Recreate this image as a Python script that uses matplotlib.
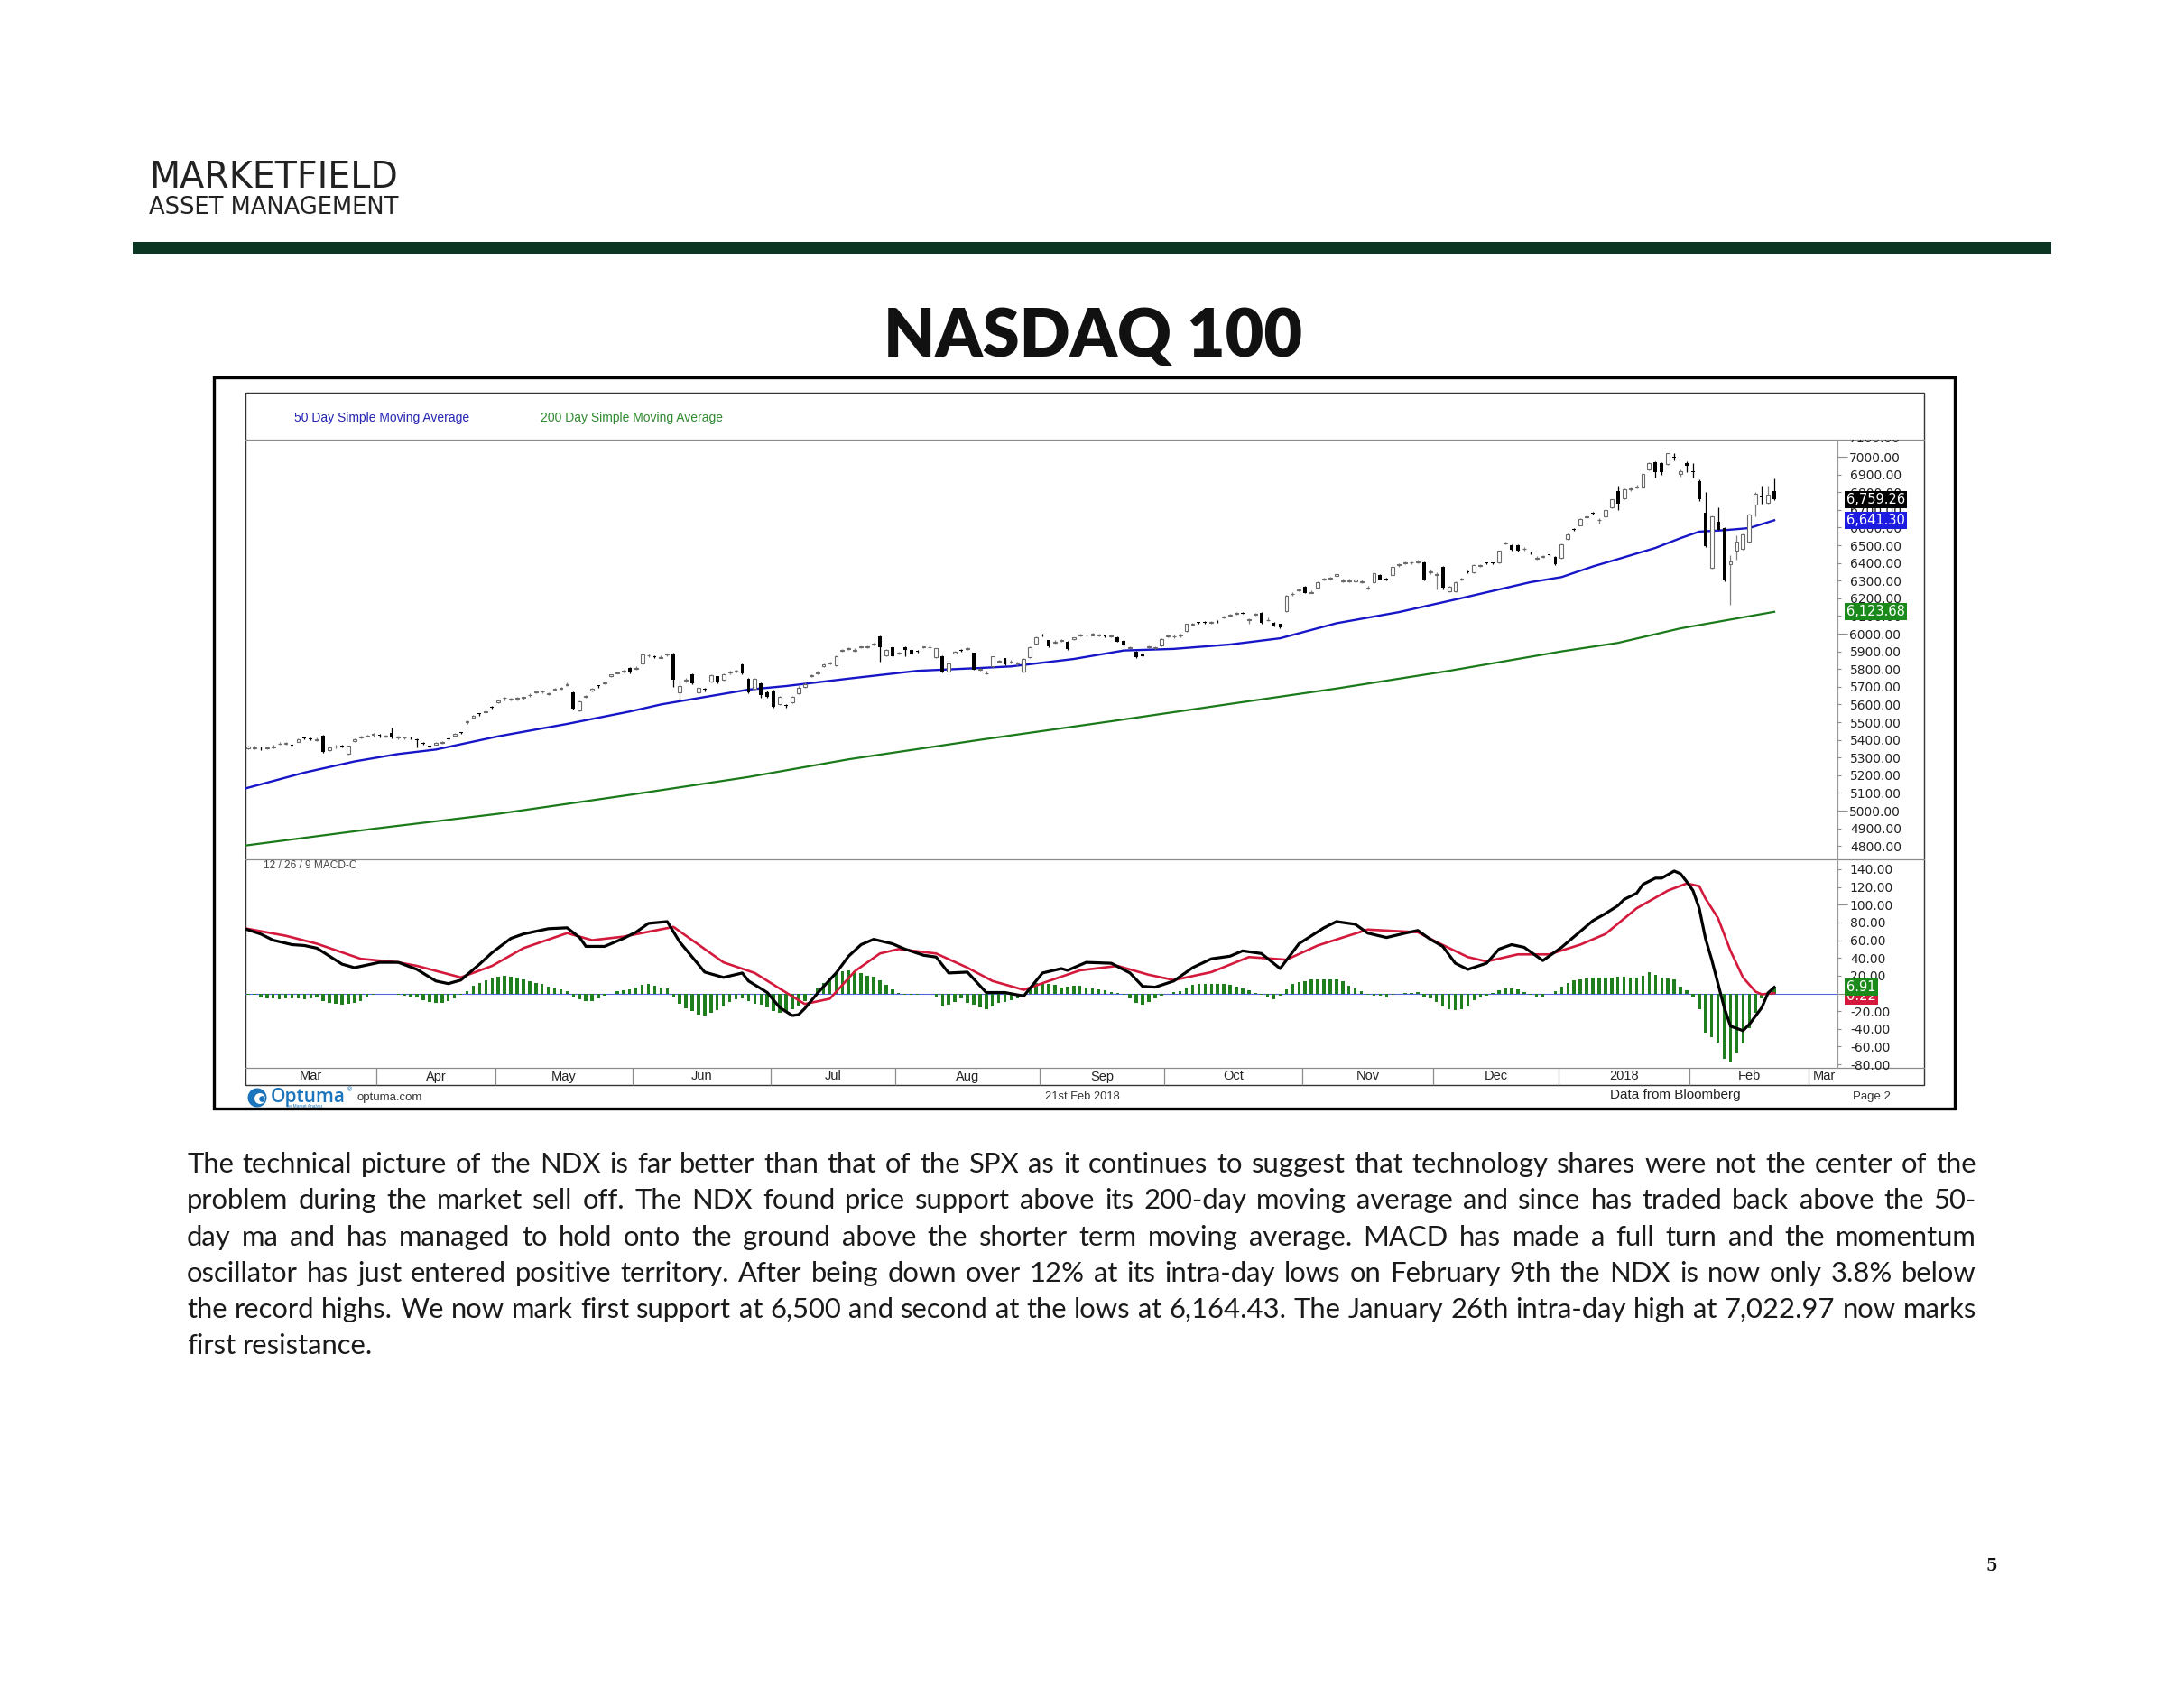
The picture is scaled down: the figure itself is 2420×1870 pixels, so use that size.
import numpy as np
import pandas as pd
import matplotlib
matplotlib.use("Agg")
import matplotlib.pyplot as plt
import matplotlib.transforms as mtransforms
from matplotlib.patches import Rectangle, Circle
from matplotlib.ticker import MultipleLocator, FuncFormatter

plt.rcParams['axes.unicode_minus'] = False

# ---------------- data (NDX daily, 2 Mar 2017 - 21 Feb 2018) ----------------
holidays = ["2017-04-14", "2017-05-29", "2017-07-04", "2017-09-04", "2017-11-23",
            "2017-12-25", "2018-01-01", "2018-01-15", "2018-02-19"]

opens = [
    5372, 5350, 5352, 5358, 5353, 5358, 5376, 5377, 5368, 5390,
    5414, 5409, 5399, 5423, 5340, 5360, 5368, 5322, 5392, 5412,
    5420, 5428, 5427, 5418, 5440, 5412, 5411, 5413, 5404, 5382,
    5366, 5374, 5382, 5408, 5425, 5442, 5499, 5528, 5549, 5557,
    5588, 5610, 5636, 5627, 5632, 5639, 5651, 5667, 5672, 5660,
    5686, 5688, 5711, 5670, 5568, 5643, 5680, 5707, 5719, 5758,
    5778, 5786, 5806, 5802, 5832, 5876, 5874, 5864, 5882, 5888,
    5670, 5735, 5769, 5670, 5688, 5729, 5758, 5741, 5780, 5784,
    5826, 5746, 5687, 5721, 5670, 5678, 5602, 5595, 5610, 5662,
    5700, 5760, 5778, 5816, 5834, 5823, 5905, 5914, 5905, 5922,
    5924, 5940, 5985, 5877, 5925, 5890, 5925, 5908, 5903, 5921,
    5922, 5866, 5874, 5786, 5890, 5908, 5915, 5891, 5797, 5774,
    5815, 5840, 5860, 5839, 5831, 5786, 5866, 5945, 5996, 5962,
    5950, 5961, 5955, 5968, 5990, 5993, 5992, 5992, 5988, 5984,
    5979, 5959, 5920, 5900, 5888, 5921, 5918, 5934, 5984, 5983,
    5988, 6014, 6050, 6064, 6068, 6062, 6072, 6092, 6102, 6111,
    6119, 6077, 6107, 6116, 6075, 6062, 6054, 6130, 6222, 6244,
    6266, 6231, 6258, 6306, 6312, 6328, 6298, 6298, 6296, 6290,
    6257, 6291, 6334, 6311, 6334, 6387, 6397, 6401, 6404, 6405,
    6346, 6332, 6376, 6240, 6240, 6306, 6354, 6348, 6384, 6402,
    6401, 6402, 6510, 6501, 6501, 6478, 6463, 6426, 6435, 6447,
    6436, 6428, 6535, 6594, 6614, 6657, 6686, 6641, 6665, 6716,
    6806, 6767, 6817, 6826, 6827, 6929, 6971, 6963, 6959, 6998,
    6905, 6966, 6914, 6864, 6682, 6371, 6631, 6597, 6393, 6470,
    6478, 6521, 6728, 6775, 6738, 6806,
]
highs = [
    5380, 5365, 5368, 5362, 5364, 5372, 5390, 5388, 5378, 5408,
    5418, 5413, 5412, 5428, 5360, 5370, 5374, 5368, 5406, 5422,
    5430, 5438, 5432, 5430, 5469, 5422, 5420, 5420, 5410, 5386,
    5370, 5386, 5394, 5412, 5437, 5446, 5508, 5542, 5552, 5566,
    5592, 5624, 5642, 5636, 5641, 5645, 5662, 5676, 5678, 5670,
    5692, 5697, 5722, 5675, 5625, 5655, 5694, 5710, 5730, 5772,
    5787, 5795, 5810, 5815, 5886, 5886, 5878, 5878, 5890, 5893,
    5738, 5750, 5774, 5700, 5692, 5768, 5762, 5776, 5790, 5798,
    5832, 5750, 5750, 5725, 5678, 5682, 5650, 5602, 5650, 5702,
    5722, 5770, 5790, 5830, 5842, 5878, 5914, 5926, 5916, 5931,
    5934, 5950, 5990, 5912, 5930, 5900, 5930, 5912, 5906, 5931,
    5934, 5920, 5878, 5836, 5901, 5911, 5925, 5895, 5808, 5790,
    5874, 5850, 5864, 5850, 5840, 5860, 5928, 5984, 6000, 5966,
    5962, 5970, 5958, 5982, 5999, 5996, 6004, 6002, 5992, 5996,
    5983, 5962, 5930, 5904, 5892, 5932, 5927, 5972, 5994, 5994,
    6000, 6058, 6061, 6067, 6071, 6072, 6075, 6100, 6112, 6120,
    6122, 6088, 6116, 6120, 6090, 6066, 6058, 6220, 6234, 6255,
    6270, 6245, 6295, 6318, 6324, 6342, 6310, 6310, 6308, 6305,
    6272, 6347, 6338, 6314, 6380, 6396, 6406, 6410, 6420, 6410,
    6360, 6345, 6382, 6270, 6295, 6318, 6357, 6392, 6394, 6405,
    6404, 6471, 6522, 6505, 6505, 6488, 6466, 6438, 6444, 6450,
    6440, 6508, 6565, 6598, 6652, 6666, 6689, 6652, 6704, 6762,
    6836, 6822, 6828, 6842, 6907, 6967, 6975, 6968, 7022.97, 7020,
    6930, 6972, 6966, 6870, 6801, 6670, 6716, 6602, 6444, 6558,
    6568, 6678, 6801, 6836, 6836, 6877,
]
lows = [
    5360, 5345, 5345, 5342, 5345, 5350, 5374, 5375, 5363, 5386,
    5405, 5400, 5394, 5325, 5335, 5352, 5355, 5318, 5388, 5408,
    5416, 5420, 5415, 5414, 5410, 5404, 5402, 5404, 5356, 5370,
    5350, 5370, 5376, 5398, 5420, 5432, 5490, 5524, 5538, 5552,
    5576, 5606, 5625, 5620, 5625, 5630, 5645, 5662, 5664, 5652,
    5678, 5684, 5704, 5572, 5560, 5636, 5675, 5696, 5712, 5754,
    5774, 5782, 5776, 5796, 5828, 5868, 5862, 5862, 5872, 5700,
    5627, 5725, 5715, 5662, 5676, 5724, 5720, 5736, 5772, 5780,
    5770, 5665, 5682, 5640, 5636, 5582, 5598, 5582, 5606, 5658,
    5694, 5755, 5772, 5812, 5826, 5818, 5900, 5910, 5898, 5918,
    5917, 5934, 5840, 5870, 5868, 5882, 5875, 5884, 5893, 5917,
    5916, 5860, 5780, 5780, 5886, 5898, 5908, 5795, 5790, 5770,
    5810, 5836, 5822, 5832, 5824, 5782, 5862, 5940, 5985, 5922,
    5946, 5954, 5906, 5964, 5986, 5983, 5988, 5985, 5978, 5980,
    5952, 5928, 5916, 5860, 5868, 5917, 5914, 5930, 5978, 5976,
    5982, 6010, 6046, 6054, 6058, 6058, 6062, 6086, 6096, 6107,
    6110, 6055, 6100, 6058, 6072, 6040, 6032, 6125, 6215, 6238,
    6228, 6228, 6254, 6300, 6305, 6324, 6290, 6290, 6292, 6286,
    6252, 6286, 6304, 6300, 6330, 6380, 6393, 6394, 6400, 6300,
    6338, 6249, 6250, 6236, 6236, 6300, 6344, 6344, 6378, 6392,
    6391, 6398, 6504, 6469, 6463, 6470, 6450, 6420, 6428, 6437,
    6390, 6424, 6530, 6582, 6610, 6653, 6676, 6625, 6660, 6710,
    6700, 6760, 6808, 6822, 6822, 6924, 6881, 6900, 6955, 6980,
    6890, 6915, 6881, 6752, 6490, 6365, 6585, 6298, 6164.43, 6419,
    6474, 6516, 6665, 6733, 6733, 6755,
]
closes = [
    5365, 5360, 5357, 5355, 5357, 5363, 5379, 5380, 5366, 5402,
    5408, 5404, 5403, 5330, 5356, 5362, 5362, 5365, 5402, 5418,
    5425, 5430, 5421, 5426, 5415, 5413, 5412, 5411, 5399, 5376,
    5360, 5382, 5386, 5403, 5433, 5437, 5500, 5538, 5544, 5562,
    5583, 5620, 5638, 5629, 5634, 5641, 5655, 5672, 5674, 5664,
    5688, 5693, 5715, 5577, 5619, 5647, 5690, 5702, 5723, 5768,
    5783, 5791, 5781, 5808, 5883, 5878, 5868, 5866, 5884, 5738,
    5704, 5740, 5721, 5695, 5682, 5764, 5724, 5772, 5782, 5792,
    5775, 5670, 5746, 5653, 5643, 5588, 5645, 5593, 5645, 5696,
    5714, 5766, 5783, 5826, 5836, 5874, 5910, 5916, 5910, 5927,
    5926, 5944, 5925, 5908, 5874, 5892, 5908, 5888, 5898, 5927,
    5926, 5916, 5786, 5832, 5897, 5903, 5917, 5798, 5799, 5776,
    5870, 5846, 5826, 5841, 5833, 5857, 5925, 5979, 5990, 5928,
    5952, 5963, 5911, 5978, 5995, 5988, 6000, 5994, 5983, 5986,
    5956, 5933, 5925, 5865, 5874, 5928, 5923, 5968, 5986, 5987,
    5993, 6054, 6057, 6059, 6063, 6068, 6070, 6094, 6106, 6116,
    6114, 6081, 6109, 6062, 6077, 6045, 6037, 6215, 6226, 6248,
    6232, 6233, 6291, 6310, 6316, 6338, 6302, 6302, 6304, 6292,
    6259, 6343, 6308, 6306, 6376, 6389, 6402, 6403, 6406, 6308,
    6350, 6336, 6258, 6266, 6291, 6310, 6349, 6388, 6386, 6397,
    6396, 6467, 6514, 6473, 6467, 6480, 6461, 6430, 6437, 6442,
    6394, 6504, 6560, 6589, 6648, 6662, 6681, 6645, 6700, 6758,
    6733, 6818, 6819, 6828, 6903, 6963, 6915, 6915, 7019, 6996,
    6920, 6949, 6912, 6759, 6495, 6665, 6589, 6303, 6410, 6521,
    6563, 6674, 6793, 6772, 6784, 6759.26,
]

# moving averages (bar index, value)
sma50_idx = [0, 10, 18, 25, 31, 41, 52, 62, 67, 73, 81, 87, 97, 108, 118, 123, 133,
             141, 149, 158, 166, 175, 185, 195, 206, 211, 216, 221, 226, 230, 233,
             237, 241, 245]
sma50_val = [5120, 5215, 5278, 5320, 5345, 5420, 5490, 5560, 5600, 5636, 5684, 5704,
             5746, 5790, 5806, 5815, 5857, 5905, 5914, 5939, 5974, 6059, 6122, 6201,
             6291, 6320, 6380, 6432, 6485, 6540, 6577, 6585, 6597, 6641.30]
sma200_idx = [0, 21, 41, 62, 81, 97, 118, 139, 158, 175, 193, 211, 220, 230, 238, 245]
sma200_val = [4800, 4897, 4982, 5089, 5190, 5290, 5400, 5505, 5603, 5690, 5790, 5900,
              5948, 6030, 6080, 6123.68]

# MACD 12/26/9
macd_idx = [0, 3, 5, 8, 10, 12, 14, 16, 18, 20, 22, 25, 28, 31, 33, 35, 38, 40, 43, 45,
            49, 52, 54, 55, 58, 61, 63, 65, 68, 70, 74, 77, 80, 81, 84, 86, 88, 89, 90,
            92, 95, 97, 99, 101, 104, 106, 109, 111, 113, 116, 119, 122, 125, 128, 131,
            132, 135, 139, 142, 144, 146, 149, 152, 155, 158, 160, 163, 166, 169, 173,
            175, 178, 180, 183, 186, 188, 190, 192, 194, 196, 199, 201, 203, 205, 208,
            211, 214, 216, 218, 220, 221, 223, 224, 226, 227, 229, 230, 231, 232, 233,
            234, 235, 236, 237, 238, 240, 241, 243, 244, 245]
macd_val = [74, 67, 60, 55, 54, 51, 42, 33, 29, 32, 35, 35, 27, 14, 11, 15, 33, 46, 62, 67,
            73, 74, 63, 53, 53, 62, 69, 79, 81, 58, 24, 18, 23, 14, 1, -16, -25, -24, -17,
            0, 23, 42, 55, 61, 56, 50, 43, 41, 23, 24, 1, 1, -3, 23, 28,
            26, 35, 34, 23, 8, 7, 14, 29, 39, 42, 48, 45, 28, 56, 74,
            81, 78, 68, 63, 68, 71, 61, 53, 34, 27, 34, 50, 55, 52, 37,
            52, 70, 82, 90, 99, 106, 113, 123, 130, 130, 138, 135, 126, 116, 96,
            62, 38, 11, -16, -37, -42, -35, -16, 0.5, 6.91]
signal_idx = [0, 7, 12, 19, 25, 28, 35, 40, 45, 52, 56, 61, 69, 77, 82, 87, 90, 94, 98,
              102, 105, 111, 116, 120, 125, 129, 134, 140, 145, 149, 155, 161, 167, 172,
              180, 188, 191, 196, 199, 204, 209, 214, 218, 223, 228, 231, 233, 234, 236,
              238, 240, 242, 243, 245]
signal_val = [74, 65, 56, 39, 35, 31, 18, 31, 51, 68, 60, 64, 75, 35, 23, 1, -12, -6, 25,
              45, 50, 45, 29, 14, 4, 14, 26, 31, 21, 15, 24, 41, 38, 54,
              72, 69, 58, 41, 36, 44, 44, 55, 67, 96, 116, 124, 121, 107, 85,
              48, 18, 2, -1, 0.22]
histogram = [
    -2, -2, -2,
    -5, -6, -6, -7, -6, -6, -6, -7, -6, -5,
    -9, -11, -12, -13, -12, -11, -9,
    -4, -2,
    0, -1, 0,
    -2, -3, -4, -5,
    -8, -10, -11, -11, -9, -6,
    -2, 3,
    9, 12, 15, 17, 19, 20, 19, 18, 16, 14, 12, 11, 8, 6, 5, 3,
    -4, -7, -9, -9, -6, -3,
    0,
    3, 4, 5, 7, 10, 11, 9, 7, 6,
    -4, -12, -17, -20, -24, -25, -22, -19, -15, -10, -7, -6, -9, -12, -13,
    -16, -20, -22, -21, -18, -14, -9, -2,
    6, 12, 17, 22, 25, 26, 25, 23, 20, 19,
    15, 10, 5, 1,
    -2, -2, -2, -1, -1, -4,
    -15, -13, -10, -6, -11, -13,
    -16, -18, -15, -11, -10, -8, -6, -4,
    7, 12, 12, 11, 10, 7, 8, 9, 9, 7, 6, 5, 4, 2, 1,
    -2, -6, -11, -13, -10, -6, -3, -1,
    2, 3, 7, 10, 11, 11, 11, 11, 11, 10, 8, 6, 4,
    1,
    -2, -4, -7, -3,
    5, 11, 13, 14, 16, 16, 16, 16, 16, 14, 9, 6, 3,
    -2, -3, -3, -5, -2,
    0, 1, 1, 2,
    -4, -6, -10, -15, -18, -19, -18, -15, -8, -5, -3,
    1, 4, 6, 6, 5, 2, -2, -4, -4, -1, 3, 8, 12, 15, 16, 17, 18, 18,
    17.5, 17.5, 19, 19, 18, 18, 20, 23.6, 21, 18, 17, 16, 8, 4, -4, -18, -44, -49,
    -55, -74, -77, -67, -56, -39, -22, -6, -1, 6.69,
]
month_names = ['Mar', 'Apr', 'May', 'Jun', 'Jul', 'Aug', 'Sep', 'Oct', 'Nov', 'Dec',
               '2018', 'Feb', 'Mar']

body_lines = [
    "The technical picture of the NDX is far better than that of the SPX as it continues to suggest that technology shares were not the center of the",
    "problem during the market sell off. The NDX found price  support above its 200-day moving average and since has traded back above the 50-",
    "day ma and has managed to hold onto the ground above the shorter term moving average. MACD has made a full turn and the momentum",
    "oscillator has just entered positive territory. After being down over 12% at its intra-day lows on February 9th the NDX is now only 3.8% below",
    "the record highs. We now mark first support at 6,500 and second at the lows at 6,164.43. The January 26th intra-day high at 7,022.97 now marks",
    "first resistance.",
]

assert len(opens) == len(highs) == len(lows) == len(closes) == len(histogram) == 246

# ---------------- figure ----------------
W, H, DPI = 2420, 1870, 100
fig = plt.figure(figsize=(W / DPI, H / DPI), dpi=DPI)
fig.patch.set_facecolor('white')

page = fig.add_axes([0, 0, 1, 1])
page.set_xlim(0, W)
page.set_ylim(H, 0)
page.axis('off')


def px_rect(x0, y0, x1, y1):
    return [x0 / W, 1 - y1 / H, (x1 - x0) / W, (y1 - y0) / H]


# header
page.text(165, 208, 'MARKETFIELD', fontsize=28.5, color='#222222', va='baseline',
          family='DejaVu Sans')
page.text(165, 237, 'ASSET MANAGEMENT', fontsize=18.5, color='#222222', va='baseline',
          family='DejaVu Sans')
page.add_patch(Rectangle((147, 268), 2126, 13, facecolor='#0b3623', edgecolor='none'))
page.text(1211, 374, 'NASDAQ 100', fontsize=53, weight='heavy', family='Lato',
          ha='center', va='center', color='#111111')

# chart frames
L, R, AX = 272, 2132, 2036
page.add_patch(Rectangle((237, 418), 1929, 810, fill=False, edgecolor='black', lw=2.4))
page.add_patch(Rectangle((L, 435), R - L, 767, fill=False, edgecolor='#333333', lw=1.0))
for yy in (487, 952, 1183):
    page.plot([L, R], [yy, yy], color='#8c8c8c', lw=0.9)
page.plot([AX, AX], [487, 1183], color='#9a9a9a', lw=0.9)

page.text(326, 463, '50 Day Simple Moving Average', fontsize=10, color='#2424b4',
          va='center', family='Liberation Sans')
page.text(599, 463, '200 Day Simple Moving Average', fontsize=10, color='#2f8a2f',
          va='center', family='Liberation Sans')
page.text(292, 959, '12 / 26 / 9 MACD-C', fontsize=8.6, color='#444444', va='center',
          family='Liberation Sans')

# price panel
ax = fig.add_axes(px_rect(L, 487, AX, 952))
axm = fig.add_axes(px_rect(L, 952, AX, 1183), sharex=ax)
for a in (ax, axm):
    a.set_facecolor('none')
    for s in a.spines.values():
        s.set_visible(False)
    a.tick_params(axis='x', which='both', bottom=False, labelbottom=False)

o, h, l, c = (np.array(v, dtype=float) for v in (opens, highs, lows, closes))
x = np.arange(len(c))
up = c >= o
ax.plot(sma200_idx, sma200_val, color='#1a7a1a', lw=1.6, zorder=2)
ax.plot(sma50_idx, sma50_val, color='#1616c8', lw=1.7, zorder=2)
ax.vlines(x[up], l[up], h[up], color='#808080', lw=0.9, zorder=3)
ax.vlines(x[~up], l[~up], h[~up], color='black', lw=0.9, zorder=3)
ax.bar(x[up], np.maximum(c - o, 4)[up], bottom=o[up], width=0.55, facecolor='white',
       edgecolor='#6a6a6a', lw=0.8, zorder=4)
ax.bar(x[~up], np.maximum(o - c, 4)[~up], bottom=c[~up], width=0.55, color='black', zorder=4)

ax.set_xlim(0.57, 255.1)
ax.set_ylim(4724.5, 7097)
LABEL_FS = 10
fmt = FuncFormatter(lambda v, p: f'{v:.2f}')
# the 0.00 label of the MACD scale sits under the value tags
fmt_macd = FuncFormatter(lambda v, p: '' if abs(v) < 1e-9 else f'{v:.2f}')
for a, major, minor, f in ((ax, 1000, 100, fmt), (axm, 100, 20, fmt_macd)):
    a.yaxis.tick_right()
    a.yaxis.set_major_locator(MultipleLocator(major))
    a.yaxis.set_minor_locator(MultipleLocator(minor))
    a.yaxis.set_major_formatter(f)
    a.yaxis.set_minor_formatter(f)
    a.tick_params(axis='y', which='major', length=8, width=0.8, color='#8c8c8c', pad=1.5,
                  labelsize=LABEL_FS, labelcolor='#222222')
    a.tick_params(axis='y', which='minor', length=3, width=0.8, color='#8c8c8c', pad=7,
                  labelsize=LABEL_FS, labelcolor='#222222')
    for t in a.get_yticklabels(which='both'):
        t.set_family('DejaVu Sans')

# clipped 7100 label at the top of the scale
clip_bb = mtransforms.Bbox.from_extents(AX, H - 952, R, H - 487)
tb = mtransforms.blended_transform_factory(ax.transAxes, ax.transData)
t7100 = ax.text(1.0 + 12.7 / (AX - L), 7100, f'{7100:.2f}', transform=tb,
                fontsize=LABEL_FS, color='#222222', va='center', ha='left',
                family='DejaVu Sans')
t7100.set_clip_box(clip_bb)
t7100.set_clip_on(True)


def tag(a, y, s, fc, fs=10.5):
    tr = mtransforms.blended_transform_factory(a.transAxes, a.transData)
    a.text(1.0 + 10 / (AX - L), y, s, transform=tr, fontsize=fs, color='white',
           va='center', ha='left', family='DejaVu Sans', zorder=10,
           bbox=dict(boxstyle='square,pad=0.15', facecolor=fc, edgecolor='none'))


tag(ax, closes[-1], f'{closes[-1]:,.2f}', 'black')
tag(ax, sma50_val[-1], f'{sma50_val[-1]:,.2f}', '#1c1ce0')
tag(ax, sma200_val[-1], f'{sma200_val[-1]:,.2f}', '#1a8a1a')

# MACD panel
axm.set_ylim(-84, 151.2)
axm.bar(x, histogram, width=0.5, color='#1f7f1f', zorder=2)
axm.axhline(0, color='#5566dd', lw=0.8, zorder=1)
axm.plot(signal_idx, signal_val, color='#d41a3c', lw=1.9, zorder=3)
axm.plot(macd_idx, macd_val, color='black', lw=2.3, zorder=4)
tag(axm, signal_val[-1] - 3, f'{signal_val[-1]:.2f}', '#d41a3c')
tag(axm, macd_val[-1], f'{macd_val[-1]:.2f}', '#1a8a1a')

# month band below the MACD panel
dates = pd.bdate_range('2017-03-02', '2018-03-09')
dates = dates[~dates.isin(pd.to_datetime(holidays))]
starts = np.flatnonzero(np.r_[True, dates.month[1:] != dates.month[:-1]])
bounds = starts[1:] - 0.5
band = 19 / 231
bt = mtransforms.blended_transform_factory(axm.transData, axm.transAxes)
axm.vlines(bounds, -band, 0, transform=bt, color='#8c8c8c', lw=0.9, clip_on=False)
edges = np.r_[0.57, bounds]
for k, name in enumerate(month_names):
    if k < len(month_names) - 1:
        axm.text((edges[k] + edges[k + 1]) / 2, -band / 2, name, transform=bt,
                 ha='center', va='center', fontsize=10.5, family='Liberation Sans',
                 color='#222222')
    else:
        axm.text(edges[k] + 0.6, -band / 2, name, transform=bt, ha='left', va='center',
                 fontsize=10.5, family='Liberation Sans', color='#222222')

# footer of the chart
page.add_patch(Circle((285, 1216), 10.5, facecolor='#1b75bc', edgecolor='none'))
page.add_patch(Circle((288, 1217), 6.0, facecolor='white', edgecolor='none'))
page.add_patch(Circle((290.5, 1217.5), 3.3, facecolor='#1b75bc', edgecolor='none'))
page.text(300, 1216, 'Optuma', fontsize=15, color='#1b75bc', va='center',
          family='Open Sans', weight='semibold')
page.text(384, 1207, '\u00ae', fontsize=5, color='#1b75bc', va='center',
          family='DejaVu Sans')
page.text(318, 1226, 'by Market Analyst', fontsize=3.5, color='#1b75bc', va='center',
          family='Liberation Sans')
page.text(395, 1216, 'optuma.com', fontsize=9.5, color='#333333', va='center',
          family='Liberation Sans')
page.text(1158, 1215, '21st Feb 2018', fontsize=9.3, color='#333333', va='center',
          family='Liberation Sans')
page.text(1784, 1213, 'Data from Bloomberg', fontsize=11, color='#222222', va='center',
          family='Liberation Sans')
page.text(2053, 1215, 'Page 2', fontsize=9.5, color='#333333', va='center',
          family='Liberation Sans')

# commentary, justified to the text block
renderer = fig.canvas.get_renderer()
left, right = 207, 2190
y0, step = 1299, 40.3
for k, line in enumerate(body_lines):
    words = line.split()
    arts = [page.text(0, y0 + k * step, w, fontsize=22.3, family='Lato', color='#1a1a1a',
                      va='baseline', ha='left') for w in words]
    widths = [t.get_window_extent(renderer).width for t in arts]
    last = k == len(body_lines) - 1
    gap = 7.5 if last else (right - left - sum(widths)) / (len(words) - 1)
    xx = left
    for t, wd in zip(arts, widths):
        t.set_x(xx)
        xx += wd + gap

page.text(2207, 1740, '5', fontsize=13, weight='bold', family='DejaVu Serif',
          ha='center', va='baseline', color='#111111')

fig.savefig('out.png', dpi=DPI)
